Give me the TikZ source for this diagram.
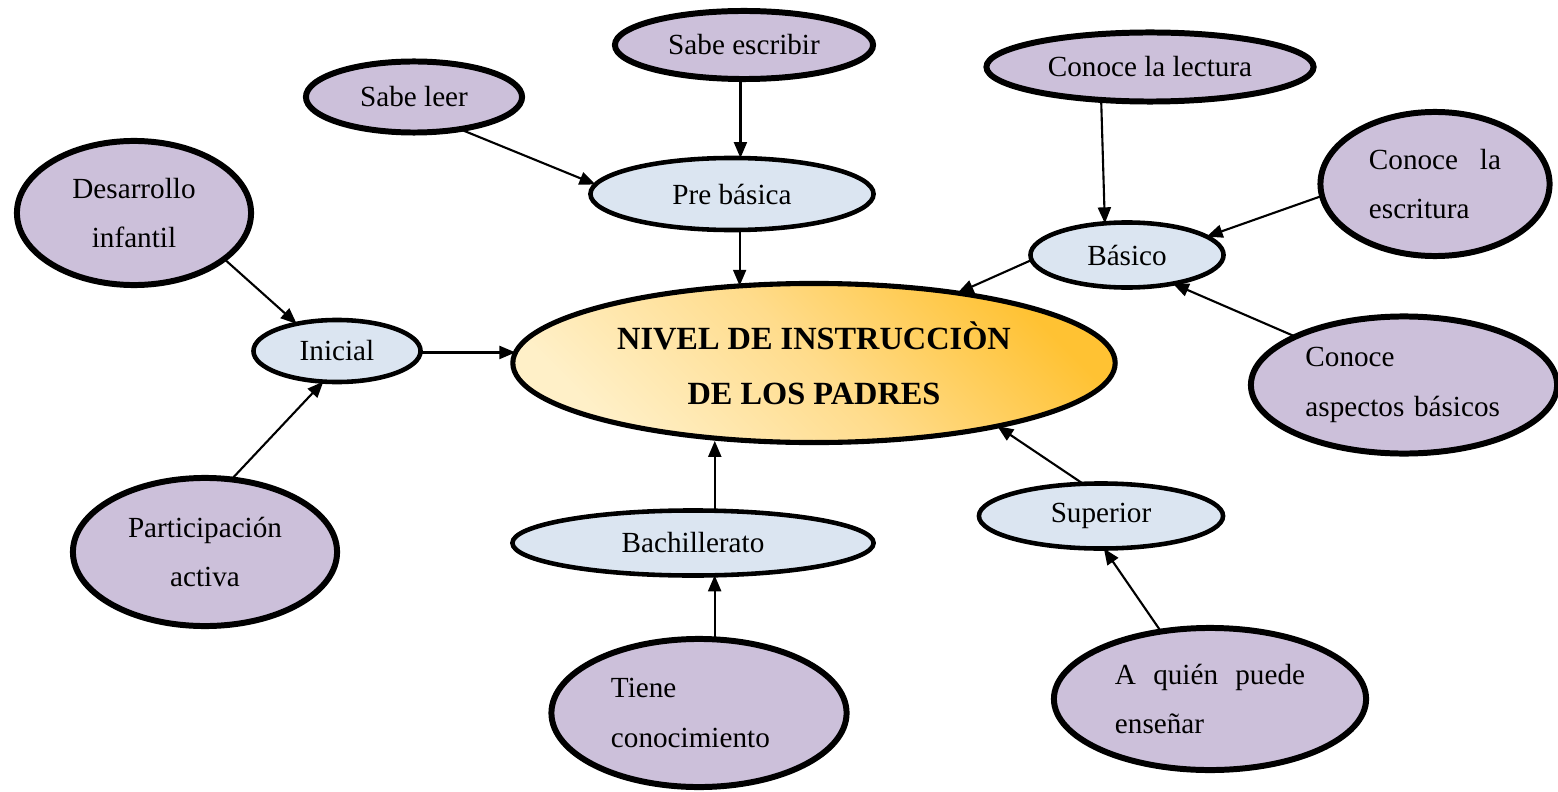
\documentclass[tikz,border=0pt]{standalone}
\usepackage{fontspec}
\setmainfont{Liberation Serif}
\usetikzlibrary{shapes.geometric,arrows.meta}
\definecolor{lila}{HTML}{CCC0DA}
\definecolor{azul}{HTML}{DBE5F1}
\definecolor{oroD}{HTML}{FFC233}
\definecolor{oroL}{HTML}{FFF0C8}
\definecolor{oroM}{HTML}{FFDC8C}
\begin{document}
\begin{tikzpicture}[x=0.01cm,y=-0.01cm,
  base/.style={ellipse, draw=black, inner sep=0pt, outer sep=0pt, font=\fontsize{8.3}{14.2}\selectfont},
  leaf/.style={base, fill=lila, line width=1.7pt},
  level/.style={base, fill=azul, line width=1.3pt},
  hub/.style={base, line width=1.45pt, top color=oroD, bottom color=oroL, middle color=oroM, shading angle=-45, font=\bfseries\fontsize{9.2}{15.6}\selectfont},
  arr/.style={-{Triangle[length=1.6mm,width=1.3mm]}, line width=0.6pt}
]
\useasboundingbox (0,0) rectangle (1558,791);

\node[leaf, minimum width=2.58cm, minimum height=0.68cm] (escribir) at (744,45) {Sabe escribir};
\node[leaf, minimum width=2.16cm, minimum height=0.71cm] (leer) at (414,97) {Sabe leer};
\node[leaf, minimum width=3.27cm, minimum height=0.69cm] (lectura) at (1150,67) {Conoce la lectura};
\node[leaf, minimum width=2.34cm, minimum height=1.44cm, align=center] (desarrollo) at (134,213) {Desarrollo\\infantil};
\node[level, minimum width=2.83cm, minimum height=0.72cm] (pre) at (732,194) {Pre básica};
\node[leaf, minimum width=2.29cm, minimum height=1.44cm, text width=1.32cm, align=left] (escritura) at (1435,184) {Conoce\hfill la\\escritura};
\node[level, minimum width=1.93cm, minimum height=0.65cm] (basico) at (1127,255) {Básico};
\node[hub, minimum width=6.02cm, minimum height=1.59cm, align=center] (central) at (814,363) {NIVEL DE INSTRUCCIÒN\\DE LOS PADRES};
\node[level, minimum width=1.67cm, minimum height=0.62cm] (inicial) at (337,351) {Inicial};
\node[leaf, minimum width=3.06cm, minimum height=1.37cm, text width=1.97cm, align=left] (aspectos) at (1404,385) {Conoce\\aspectos básicos};
\node[leaf, minimum width=2.64cm, minimum height=1.48cm, align=center] (particip) at (205,552) {Participación\\activa};
\node[level, minimum width=3.61cm, minimum height=0.65cm] (bach) at (693,543) {Bachillerato};
\node[level, minimum width=2.44cm, minimum height=0.65cm] (superior) at (1101,516) {Superior};
\node[leaf, minimum width=2.95cm, minimum height=1.48cm, text width=1.76cm, align=left] (tiene) at (699,713) {Tiene\\conocimiento};
\node[leaf, minimum width=3.12cm, minimum height=1.42cm, text width=1.90cm, align=left] (quien) at (1210,699) {A\hfill quién\hfill puede\\enseñar};

\draw[arr] (leer.-35) -- (pre.176);
\draw[arr] (escribir.-96) -- (escribir.-96 |- pre.78);
\draw[arr] (pre.-78) -- (pre.-78 |- central.133);
\draw[arr] (lectura.-146) -- (basico.125);
\draw[arr] (escritura.-174) -- (basico.13);
\draw[arr] (basico.-177) -- (central.26);
\draw[arr] (aspectos.156) -- (basico.-32);
\draw[arr] (desarrollo.-27) -- (inicial.146);
\draw[arr] (inicial.-1) -- (inicial.-1 -| central.178);
\draw[arr] (particip.70) -- (inicial.-114);
\draw[arr] (bach.56) -- (bach.56 |- central.-128);
\draw[arr] (tiene.78) -- (tiene.78 |- bach.-57);
\draw[arr] (superior.119) -- (central.-19);
\draw[arr] (quien.126) -- (superior.-85);
\end{tikzpicture}
\end{document}
